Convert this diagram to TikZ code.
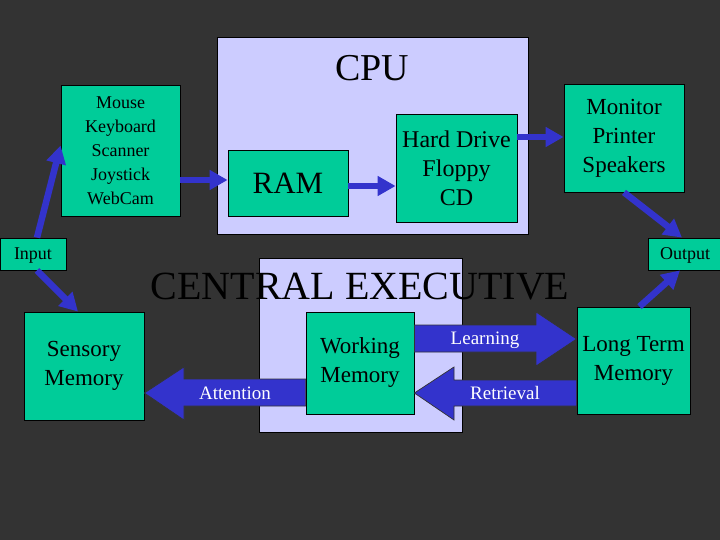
\documentclass[tikz,border=0pt]{standalone}
\usepackage{fontspec}
\setmainfont{Liberation Serif}
\usetikzlibrary{positioning,arrows.meta,calc}
\definecolor{bgdark}{RGB}{51,51,51}
\definecolor{boxgreen}{RGB}{0,204,153}
\definecolor{lav}{RGB}{204,204,255}
\definecolor{arblue}{RGB}{51,51,204}
\newcommand{\fsz}[2]{\fontsize{#1}{#2}\selectfont}
\begin{document}
\begin{tikzpicture}[x=1pt,y=-1pt,
  box/.style={draw=black,line width=0.8pt,fill=boxgreen,align=center,inner sep=2pt},
  tag/.style={box,minimum height=32,font=\fsz{18}{20},text height=12pt,text depth=2pt},
  area/.style={draw=black,line width=0.8pt,fill=lav},
  ar/.style={-{Triangle[length=18pt,width=19pt]},draw=arblue,line width=6.5pt},
  blk/.style={draw=black!80,line width=0.7pt,fill=arblue},
  blklab/.style={text=white,font=\fsz{19}{22}}]
  \fill[bgdark] (0,0) rectangle (720,540);
  \useasboundingbox (0,0) rectangle (720,540);
  % the two shaded areas
  \node[area,minimum width=311,minimum height=197] (cpu) at (372.5,135.5) {};
  \node[font=\fsz{38}{40}] (cputitle) at (372,68) {CPU};
  \node[area,minimum width=203,minimum height=174] (ce) at (360.5,345) {};
  \node[font=\fsz{40}{42}] (cetitle) at (360,286.5) {CENTRAL EXECUTIVE};
  % computer side
  \node[box,minimum width=119,minimum height=131,font=\fsz{18}{24}] (indev) at (120.5,150.5) {Mouse\\Keyboard\\Scanner\\Joystick\\WebCam};
  \node[box,minimum width=120,minimum height=66,font=\fsz{31}{34}] (ram) at (288,183) {RAM};
  \node[box,minimum width=121,minimum height=108,font=\fsz{24}{29}] (disk) at (456.5,168) {Hard Drive\\Floppy\\CD};
  \node[box,minimum width=120,minimum height=108,font=\fsz{23}{29}] (outdev) at (624,138) {Monitor\\Printer\\Speakers};
  \node[tag,minimum width=66] (input) at (33,254) {Input};
  \node[tag,minimum width=74] (output) at (685,254) {Output};
  % memory side
  \node[box,minimum width=120,minimum height=108,font=\fsz{23}{29}] (sens) at (84,366) {Sensory\\Memory};
  \node[box,minimum width=108,minimum height=102,font=\fsz{23}{29}] (wm) at (360,363) {Working\\Memory};
  \node[box,minimum width=113,minimum height=107,font=\fsz{23}{29}] (ltm) at (633.5,360.5) {Long Term\\Memory};
  \draw[blk] (wm.west |- 0,379) -- (184,379) -- (184,367) -- (sens.east |- 0,393) -- (184,420) -- (184,406) -- (wm.west |- 0,406) -- cycle;
  \draw[blk] (wm.east |- 0,325) -- (536,325) -- (536,312) -- (ltm.west |- 0,339) -- (536,366) -- (536,352) -- (wm.east |- 0,352) -- cycle;
  \draw[blk] (ltm.west |- 0,380) -- (454,380) -- (454,367) -- (wm.east |- 0,393) -- (454,420) -- (454,406) -- (ltm.west |- 0,406) -- cycle;
  \node[blklab] (attn) at (235,393) {Attention};
  \node[blklab] (learn) at (485,340) {Learning};
  \node[blklab] (retr) at (505,393) {Retrieval};
  % thin arrows
  \draw[ar] ([xshift=4]input.north) -- ([yshift=5]indev.west);
  \draw[ar] ([xshift=4]input.south) -- ([xshift=-6]sens.north);
  \draw[ar] (indev.east |- 0,180) -- (ram.west |- 0,180);
  \draw[ar] (ram.east |- 0,186) -- (disk.west |- 0,186);
  \draw[ar] (disk.east |- 0,137) -- (outdev.west |- 0,137);
  \draw[ar] (outdev.south) -- ([xshift=-3]output.north);
  \draw[ar] ([xshift=6]ltm.north) -- ([xshift=-5]output.south);
\end{tikzpicture}
\end{document}
